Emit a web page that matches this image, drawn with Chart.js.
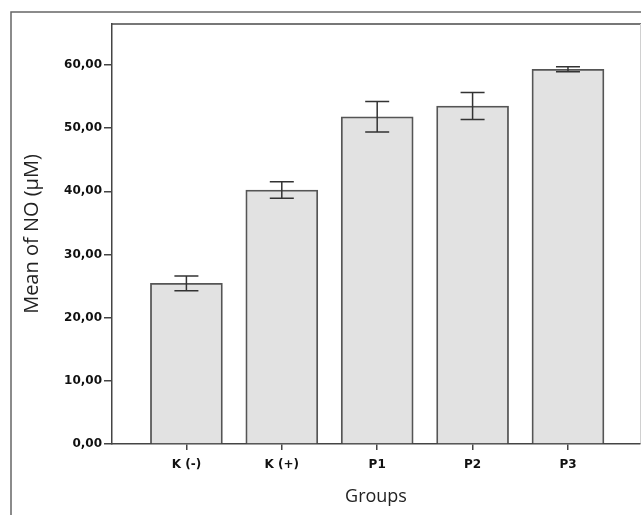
<!DOCTYPE html>
<html>
<head>
<meta charset="utf-8">
<script src="https://cdn.jsdelivr.net/npm/chart.js@4"></script>
<style>
  html, body { margin: 0; padding: 0; background: #fff; }
  #wrap { position: relative; width: 641px; height: 515px; }
</style>
</head>
<body>
<div id="wrap"><canvas id="c" width="641" height="515"></canvas></div>
<script>
const categories = ["K (-)", "K (+)", "P1", "P2", "P3"];
const means = [25.44, 40.21, 51.81, 53.51, 59.32];
const errors = [1.17, 1.31, 2.40, 2.13, 0.40];
const yTicks = [0, 10, 20, 30, 40, 50, 60];
const yTitle = "Mean of NO (µM)";
const xTitle = "Groups";

const points = means.map((v, i) => ({ x: i + 1, y: v }));

const errorBars = {
  id: 'errorBars',
  afterDatasetsDraw(chart) {
    const ctx = chart.ctx;
    const xs = chart.scales.x, ys = chart.scales.y;
    ctx.save();
    ctx.strokeStyle = '#333';
    ctx.lineWidth = 1.5;
    means.forEach((m, i) => {
      const px = xs.getPixelForValue(i + 1);
      const top = ys.getPixelForValue(m + errors[i]);
      const bot = ys.getPixelForValue(m - errors[i]);
      const cap = 12;
      ctx.beginPath();
      ctx.moveTo(px, top); ctx.lineTo(px, bot);
      ctx.moveTo(px - cap, top); ctx.lineTo(px + cap, top);
      ctx.moveTo(px - cap, bot); ctx.lineTo(px + cap, bot);
      ctx.stroke();
    });
    ctx.restore();
  }
};

const frames = {
  id: 'frames',
  beforeDraw(chart) {
    const ctx = chart.ctx;
    const a = chart.chartArea;
    ctx.save();
    ctx.fillStyle = '#fff';
    ctx.fillRect(0, 0, chart.width, chart.height);
    ctx.strokeStyle = '#666';
    ctx.lineWidth = 1.5;
    ctx.beginPath();
    ctx.moveTo(11, chart.height); ctx.lineTo(11, 12); ctx.lineTo(chart.width, 12);
    ctx.stroke();
    ctx.strokeStyle = '#777';
    ctx.lineWidth = 2;
    ctx.beginPath();
    ctx.moveTo(a.left, a.top); ctx.lineTo(a.right + 1, a.top);
    ctx.stroke();
    ctx.strokeStyle = '#d0d0d0';
    ctx.lineWidth = 1;
    ctx.beginPath();
    ctx.moveTo(a.right + 0.5, a.top); ctx.lineTo(a.right + 0.5, a.bottom);
    ctx.stroke();
    ctx.restore();
  }
};

new Chart(document.getElementById('c'), {
  type: 'bar',
  data: {
    datasets: [{
      data: points,
      backgroundColor: '#e2e2e2',
      borderColor: '#555',
      borderWidth: 1.8,
      barThickness: 72,
      borderSkipped: 'bottom'
    }]
  },
  options: {
    responsive: false,
    animation: false,
    devicePixelRatio: 1,
    layout: { padding: { top: 24, right: 1, left: 0, bottom: 0 } },
    plugins: { legend: { display: false }, tooltip: { enabled: false } },
    scales: {
      x: {
        type: 'linear',
        offset: false,
        min: 0.22,
        max: 5.755,
        afterBuildTicks(scale) { scale.ticks = categories.map((c, i) => ({ value: i + 1 })); },
        afterFit(scale) { scale.height = 71; },
        ticks: {
          autoSkip: false,
          maxRotation: 0,
          padding: 8,
          color: '#111',
          font: { family: 'DejaVu Sans', size: 12, weight: 'bold' },
          callback: (v) => categories[Math.round(v) - 1]
        },
        grid: { offset: false, drawOnChartArea: false, tickLength: 6, color: '#444', lineWidth: 1.5 },
        border: { display: true, color: '#444', width: 1.5 },
        title: {
          display: true, text: xTitle, color: '#222',
          font: { family: 'Open Sans', size: 18 },
          padding: { top: 0, bottom: 7 }
        }
      },
      y: {
        min: 0,
        max: 66.5,
        afterBuildTicks(scale) { scale.ticks = yTicks.map(v => ({ value: v })); },
        afterFit(scale) { scale.width = 112; },
        ticks: {
          padding: 2,
          color: '#111',
          font: { family: 'DejaVu Sans', size: 12, weight: 'bold' },
          callback: (v) => v.toFixed(2).replace('.', ',')
        },
        grid: { drawOnChartArea: false, tickLength: 8, color: '#444', lineWidth: 1.5 },
        border: { display: true, color: '#444', width: 1.5 },
        title: {
          display: true, text: yTitle, color: '#222',
          font: { family: 'Open Sans', size: 20 },
          padding: { top: 20, bottom: 0 }
        }
      }
    }
  },
  plugins: [frames, errorBars]
});
</script>
</body>
</html>
